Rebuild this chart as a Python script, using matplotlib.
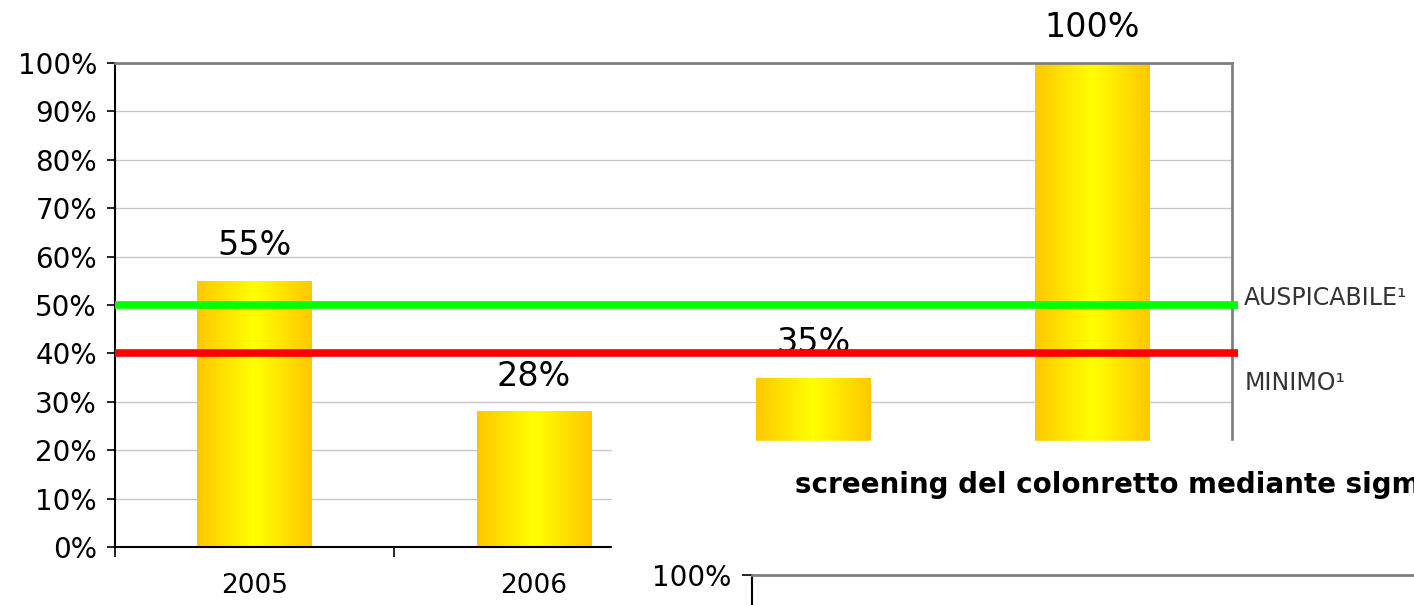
import numpy as np
import matplotlib
matplotlib.use('Agg')
from matplotlib import pyplot as plt
from matplotlib.colors import LinearSegmentedColormap
from matplotlib.patches import Rectangle
import matplotlib.transforms as mtransforms

# dati
anni = ['2005', '2006', '2007', '2008']
valori = [55, 28, 35, 100]
soglie = [50, 40]
soglie_nomi = ['AUSPICABILE\u00b9', 'MINIMO\u00b9']
soglie_colori = ['#00FF00', '#FF0000']
soglie_offset = [5, -21]
yticks = list(range(0, 101, 10))
titolo2 = 'screening del colonretto mediante sigmoidoscopia'

plt.rcParams['font.family'] = ['DejaVu Sans']

fig = plt.figure(figsize=(14.14, 6.05), dpi=100)
ax = fig.add_axes([115/1414, 1-547/605, (1232-115)/1414, (547-63)/605])

x = np.arange(len(anni))
bars = ax.bar(x, valori, width=0.41, color='#FFD700', zorder=2)

# gradiente orizzontale oro-giallo-oro
cmap = LinearSegmentedColormap.from_list('oro', ['#FFC800', '#FFFF00', '#FFC800'])
grad = np.linspace(0, 1, 256).reshape(1, -1)
for b in bars:
    im = ax.imshow(grad, cmap=cmap, aspect='auto', zorder=2.1,
                   extent=(b.get_x(), b.get_x() + b.get_width(), 0, b.get_height()))
    im.set_clip_path(b)

for xi, v in zip(x, valori):
    ax.annotate(f'{v}%', (xi, v), xytext=(0, 18.5), textcoords='offset points',
                ha='center', va='baseline', fontsize=24, zorder=3, annotation_clip=False)

trans = mtransforms.blended_transform_factory(ax.transAxes, ax.transData)
for s, nome, col, off in zip(soglie, soglie_nomi, soglie_colori, soglie_offset):
    ax.hlines(s, -0.5, 3.52, colors=col, lw=5.5, zorder=5, clip_on=False)
    ax.annotate(nome, (1.011, s), xycoords=trans, xytext=(0, off), textcoords='offset points',
                ha='left', va='center', fontsize=17, color='#333333', annotation_clip=False)

ax.set_xlim(-0.5, 3.5)
ax.set_ylim(0, 100)
ax.set_yticks(yticks)
ax.set_yticklabels([f'{t}%' for t in yticks], fontsize=20)
ax.set_xticks(x)
ax.set_xticklabels(anni, fontsize=19)
ax.set_xticks(np.arange(-0.5, 4, 1), minor=True)
ax.tick_params(axis='x', which='major', length=0, pad=19)
ax.tick_params(axis='x', which='minor', length=7, width=1.2, direction='out')
ax.tick_params(axis='y', length=6, width=1.2, direction='out', pad=7)
ax.yaxis.grid(True, color='#C8C8C8', lw=1)
ax.set_axisbelow(True)
ax.spines['left'].set_color('black')
ax.spines['bottom'].set_color('black')
ax.spines['left'].set_linewidth(1.5)
ax.spines['bottom'].set_linewidth(1.5)
for s in ['top', 'right']:
    ax.spines[s].set_color('#808080')
    ax.spines[s].set_linewidth(2)

# riquadro bianco sovrapposto (secondo grafico)
fig.patches.append(Rectangle((612/1414, 0), 1 - 612/1414, (605-441)/605,
                             transform=fig.transFigure, color='white', zorder=10))
fig.text(795/1414, 1-485/605, titolo2, fontsize=20, fontweight='bold',
         ha='left', va='center', zorder=12)

ax2 = fig.add_axes([752/1414, -0.5, 0.6, 0.5 + (605-575)/605])
ax2.set_zorder(11)
ax2.patch.set_alpha(0)
ax2.set_ylim(0, 1)
ax2.set_yticks([1])
ax2.set_yticklabels(['100%'], fontsize=20)
ax2.set_xticks([])
ax2.tick_params(axis='y', length=7, width=1.2, pad=8)
ax2.spines['right'].set_visible(False)
ax2.spines['bottom'].set_visible(False)
ax2.spines['top'].set_color('#808080')
ax2.spines['top'].set_linewidth(2)
ax2.spines['left'].set_linewidth(1.5)

fig.savefig('out.png', dpi=100)
